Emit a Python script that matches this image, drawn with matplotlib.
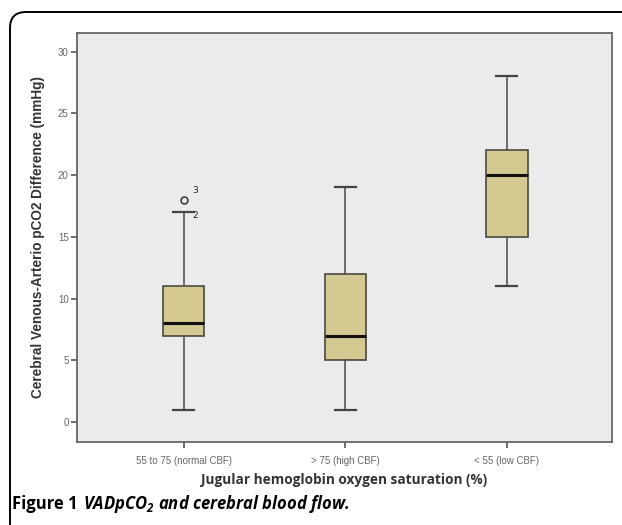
import matplotlib
matplotlib.use("Agg")
import matplotlib.pyplot as plt
from matplotlib.patches import FancyBboxPatch
from matplotlib.transforms import IdentityTransform

# =========================
# DATA
# =========================
groups = ["55 to 75 (normal CBF)", "> 75 (high CBF)", "< 55 (low CBF)"]
whisker_low = [1, 1, 11]
q1 = [7, 5, 15]
median = [8, 7, 20]
q3 = [11, 12, 22]
whisker_high = [17, 19, 28]
outliers = [[18], [], []]
outlier_labels = [["3"], [], []]
extra_labels = [("2", 0, 17)]   # case number near cap of first box

yticks = [0, 5, 10, 15, 20, 25, 30]

plt.rcParams['mathtext.fontset'] = 'custom'
plt.rcParams['mathtext.rm'] = 'Open Sans:italic:bold'
plt.rcParams['mathtext.it'] = 'Open Sans:italic:bold'

W, H = 622, 525
fig = plt.figure(figsize=(W / 100, H / 100), dpi=100)

# outer rounded frame
frame = FancyBboxPatch((10, -40), 700, H - 12 + 40,
                       boxstyle="round,pad=0,rounding_size=16",
                       transform=IdentityTransform(), fill=False,
                       edgecolor="black", linewidth=1.4)
fig.patches.append(frame)

ax = fig.add_axes([77 / W, 1 - 442 / H, (612 - 77) / W, (442 - 33) / H])
ax.set_facecolor("#ebebeb")

stats = []
for i in range(len(groups)):
    stats.append(dict(whislo=whisker_low[i], q1=q1[i], med=median[i],
                      q3=q3[i], whishi=whisker_high[i], fliers=outliers[i]))

positions = [1, 2, 3]
ax.bxp(stats, positions=positions, widths=0.255, patch_artist=True,
       boxprops=dict(facecolor="#d3c991", edgecolor="#4a4a40", linewidth=1.2),
       medianprops=dict(color="#111111", linewidth=2.2),
       whiskerprops=dict(color="#555555", linewidth=1.2),
       capprops=dict(color="#444444", linewidth=1.6),
       capwidths=0.13,
       flierprops=dict(marker="o", markerfacecolor="none",
                       markeredgecolor="#333333", markersize=5, markeredgewidth=1.1))

for i, labs in enumerate(outlier_labels):
    for v, lab in zip(outliers[i], labs):
        ax.text(positions[i] + 0.055, v + 0.35, lab, fontsize=6.5,
                color="#222222", ha="left", va="bottom")
for lab, gi, v in extra_labels:
    ax.text(positions[gi] + 0.055, v - 0.25, lab, fontsize=6.5,
            color="#222222", ha="left", va="center")

ax.set_xlim(0.34, 3.65)
ax.set_ylim(-1.6, 31.5)
ax.set_xticks(positions)
ax.set_xticklabels(groups, fontsize=7, color="#666666", family="Liberation Sans")
ax.set_yticks(yticks)
ax.set_yticklabels([str(t) for t in yticks], fontsize=7, color="#666666",
                   family="Liberation Sans")
ax.tick_params(axis="both", direction="out", length=4, width=1.2, color="#555555")
ax.tick_params(axis="x", pad=6)
ax.tick_params(axis="y", pad=2)

for s in ax.spines.values():
    s.set_color("#666666")
    s.set_linewidth(1.3)

ax.set_ylabel("Cerebral Venous-Arterio pCO2 Difference (mmHg)", fontsize=9.8,
              fontweight="bold", color="#333333", labelpad=9,
              family="Liberation Sans")
ax.set_xlabel("Jugular hemoglobin oxygen saturation (%)", fontsize=9.8,
              fontweight="bold", color="#333333", labelpad=5,
              family="Open Sans")

# caption
t1 = fig.text(12 / W, 1 - 509 / H, "Figure 1", fontsize=12, fontweight="bold",
              family="Open Sans", ha="left", va="baseline")
fig.canvas.draw()
bb = t1.get_window_extent()
fig.text((bb.x1 + 5) / W, 1 - 509 / H, r"VADpCO$_2$ and cerebral blood flow.",
         fontsize=12, fontstyle="italic", fontweight="bold", family="Open Sans",
         ha="left", va="baseline")

fig.savefig("out.png", dpi=100)
